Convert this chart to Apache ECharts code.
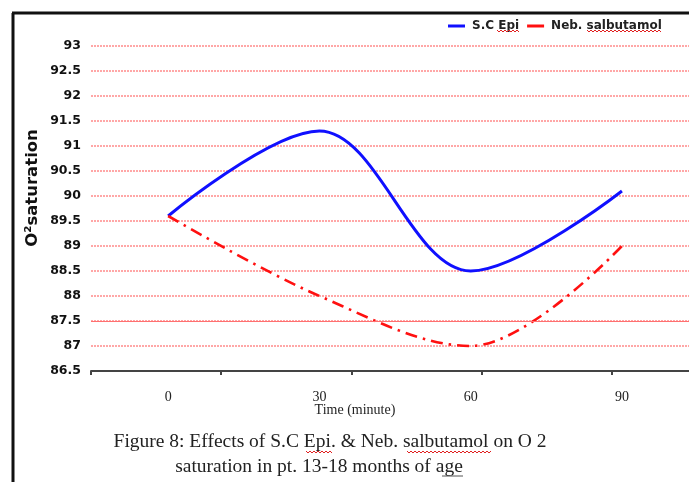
<!DOCTYPE html>
<html>
<head>
<meta charset="utf-8">
<script src="https://cdn.jsdelivr.net/npm/echarts@6/dist/echarts.min.js"></script>
<style>
  html, body { margin: 0; padding: 0; background: #fff; }
  #chart { width: 689px; height: 482px; }
</style>
</head>
<body>
<div id="chart"></div>
<script>
// O2 saturation over time for the two treatment groups
const times = [0, 30, 60, 90];
const scEpi = [89.6, 91.3, 88.5, 90.1];
const nebSalbutamol = [89.6, 88.0, 87.0, 89.0];
const seriesNames = ['S.C Epi', 'Neb. salbutamol'];
const timeLabels = [0, 30, 60, 90];
const timeTickMarks = [-15.3, 10.5, 36.45, 62.2, 88.0];
const xMin = -15.3, xMax = 103.3;
const yMin = 86.5, yMax = 93, yStep = 0.5;
const solidGridValue = 87.5;

const chart = echarts.init(document.getElementById('chart'), null, { renderer: 'canvas' });

const toPoints = vals => times.map((t, i) => [t, vals[i]]);

// red wavy "spelling" underline as a zigzag polyline
function wavy(x0, x1, y) {
  const pts = [];
  let up = true;
  for (let x = x0; x <= x1; x += 2) {
    pts.push([x, up ? y - 1 : y + 1]);
    up = !up;
  }
  return { type: 'polyline', shape: { points: pts }, style: { stroke: '#e02020', lineWidth: 1, fill: null }, z: 10 };
}

chart.setOption({
  animation: false,
  backgroundColor: '#ffffff',
  grid: { left: 91, top: 46, right: 0, height: 325, containLabel: false },
  legend: {
    left: 443, top: 15,
    itemWidth: 17, itemHeight: 3, itemGap: 8,
    icon: 'rect',
    textStyle: { fontFamily: 'DejaVu Sans', fontWeight: 'bold', fontSize: 12, color: '#222', padding: [0, 0, 0, 2] },
    data: seriesNames
  },
  xAxis: {
    type: 'value',
    min: xMin, max: xMax,
    axisLine: { lineStyle: { color: '#444', width: 2 } },
    axisTick: { show: true, customValues: timeTickMarks, length: 4, lineStyle: { color: '#444', width: 2 } },
    axisLabel: {
      customValues: timeLabels,
      margin: 19,
      fontFamily: 'Liberation Serif', fontSize: 14, color: '#222'
    },
    splitLine: { show: false }
  },
  yAxis: {
    type: 'value',
    min: yMin, max: yMax, interval: yStep,
    axisLine: { show: false },
    axisTick: { show: false },
    axisLabel: {
      margin: 10,
      fontFamily: 'DejaVu Sans', fontWeight: 'bold', fontSize: 12.5, color: '#111'
    },
    splitLine: { show: true, lineStyle: { color: '#ff8a8a', width: 1.6, type: [2, 1] } }
  },
  series: [
    {
      name: seriesNames[0],
      type: 'line',
      data: toPoints(scEpi),
      smooth: 0.35,
      showSymbol: false,
      symbol: 'none',
      lineStyle: { color: '#1010ff', width: 3 },
      itemStyle: { color: '#1010ff' },
      z: 3
    },
    {
      name: seriesNames[1],
      type: 'line',
      data: toPoints(nebSalbutamol),
      smooth: 0.35,
      showSymbol: false,
      symbol: 'none',
      lineStyle: { color: '#ff1010', width: 2.6, type: [12, 6, 2.5, 6] },
      itemStyle: { color: '#ff1010' },
      markLine: {
        silent: true,
        symbol: 'none',
        label: { show: false },
        lineStyle: { color: '#ff7070', width: 1, type: 'solid' },
        data: [{ yAxis: solidGridValue }]
      },
      z: 3
    }
  ],
  graphic: [
    // frame around the chart area
    { type: 'line', shape: { x1: 13, y1: 13, x2: 13, y2: 482 }, style: { stroke: '#111', lineWidth: 3 } },
    { type: 'line', shape: { x1: 12, y1: 13, x2: 689, y2: 13 }, style: { stroke: '#111', lineWidth: 3 } },
    {
      type: 'text', x: 33, y: 188, rotation: Math.PI / 2,
      style: { text: 'O²saturation', fontFamily: 'DejaVu Sans', fontWeight: 'bold', fontSize: 16.5, fill: '#111', align: 'center', verticalAlign: 'middle' }
    },
    {
      type: 'text', x: 355, y: 410,
      style: { text: 'Time (minute)', fontFamily: 'Liberation Serif', fontSize: 14, fill: '#222', align: 'center', verticalAlign: 'middle' }
    },
    {
      type: 'text', x: 330, y: 442,
      style: { text: 'Figure 8: Effects of S.C Epi. & Neb. salbutamol on O 2', fontFamily: 'Liberation Serif', fontSize: 19.5, fill: '#222', align: 'center', verticalAlign: 'middle' }
    },
    {
      type: 'text', x: 319, y: 467,
      style: { text: 'saturation in pt. 13-18 months of age', fontFamily: 'Liberation Serif', fontSize: 19.5, fill: '#222', align: 'center', verticalAlign: 'middle' }
    },
    wavy(497, 519, 31),
    wavy(587, 662, 31),
    wavy(306, 332, 452),
    wavy(407, 491, 452),
    { type: 'line', shape: { x1: 442, y1: 476, x2: 463, y2: 476 }, style: { stroke: '#555', lineWidth: 1 } }
  ]
});
</script>
</body>
</html>
